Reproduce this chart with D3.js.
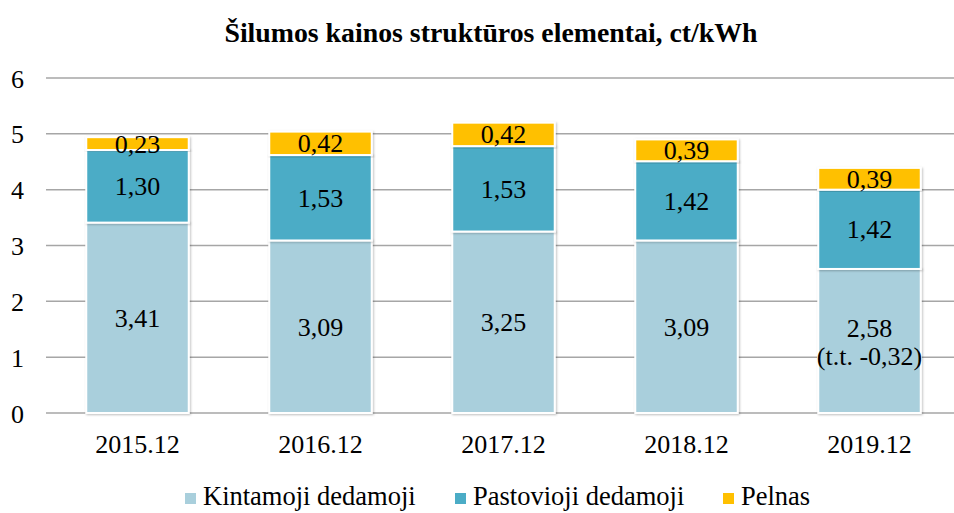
<!DOCTYPE html>
<html>
<head>
  <meta charset="utf-8" />
  <script src="https://d3js.org/d3.v7.min.js"></script>
  <style>
    body { margin: 0; background: white; }
    svg, svg text { font-family: 'Liberation Serif', 'DejaVu Serif', serif; }
    .grid line { stroke: #a6a6a6; stroke-width: 1.5px; }
  </style>
</head>
<body>
  <svg id="chart" width="954" height="513"></svg>
  <script>
    const years = ["2015.12", "2016.12", "2017.12", "2018.12", "2019.12"];
    const kintamoji = [3.41, 3.09, 3.25, 3.09, 2.58];
    const pastovioji = [1.30, 1.53, 1.53, 1.42, 1.42];
    const pelnas = [0.23, 0.42, 0.42, 0.39, 0.39];
    const seriesNames = ["Kintamoji dedamoji", "Pastovioji dedamoji", "Pelnas"];
    const colors = ["#a9cfdc", "#4bacc6", "#ffc000"];
    const yTicks = [0, 1, 2, 3, 4, 5, 6];
    const extraNote = "(t.t. -0,32)";

    const svg = d3.select("#chart");
    const fmt = v => v.toFixed(2).replace(".", ",");

    const x = d3.scaleBand().domain(years).range([46, 961]).paddingInner(0.44).paddingOuter(0.22);
    const y = d3.scaleLinear().domain([0, 6]).range([413, 78]);

    svg.append("text")
      .attr("x", 491).attr("y", 42)
      .attr("text-anchor", "middle")
      .attr("font-weight", "bold").attr("font-size", 27.8)
      .text("Šilumos kainos struktūros elementai, ct/kWh");

    // gridlines
    const grid = svg.append("g").attr("class", "grid");
    grid.selectAll("line").data(yTicks).join("line")
      .attr("x1", 46).attr("x2", 954)
      .attr("y1", d => y(d)).attr("y2", d => y(d));

    const yAxis = d3.axisLeft(y).tickValues(yTicks).tickFormat(d3.format("d")).tickSize(0).tickPadding(0);
    svg.append("g")
      .attr("transform", "translate(24,0)")
      .call(yAxis)
      .attr("font-size", 26)
      .call(g => g.select(".domain").remove())
      .selectAll("text")
      .attr("dy", "0.35em").attr("fill", "#000");

    const xAxis = d3.axisBottom(x).tickSize(0).tickPadding(0);
    svg.append("g")
      .attr("transform", "translate(0," + y(0) + ")")
      .call(xAxis)
      .attr("font-size", 26)
      .call(g => g.select(".domain").remove())
      .selectAll("text")
      .attr("y", 40).attr("dy", 0).attr("fill", "#000");

    const table = years.map((yr, i) => ({ year: yr, k: kintamoji[i], p: pastovioji[i], l: pelnas[i] }));
    const stack = d3.stack().keys(["k", "p", "l"])(table);

    const defs = svg.append("defs");
    const f = defs.append("filter").attr("id", "shadow").attr("x", "-10%").attr("y", "-10%").attr("width", "120%").attr("height", "120%");
    f.append("feDropShadow").attr("dx", 1).attr("dy", 1).attr("stdDeviation", 1.2).attr("flood-color", "#000").attr("flood-opacity", 0.25);

    const layers = svg.append("g").selectAll("g").data(stack).join("g")
      .attr("fill", (d, i) => colors[i]);

    layers.selectAll("rect").data(d => d).join("rect")
      .attr("x", d => x(d.data.year))
      .attr("width", x.bandwidth())
      .attr("y", d => y(d[1]))
      .attr("height", d => y(d[0]) - y(d[1]))
      .attr("stroke", "white").attr("stroke-width", 2)
      .attr("filter", "url(#shadow)");

    // labels
    const labels = svg.append("g").attr("font-size", 26).attr("text-anchor", "middle");
    stack.forEach((layer, li) => {
      layer.forEach((d, i) => {
        const cx = x(d.data.year) + x.bandwidth() / 2;
        const cy = (y(d[0]) + y(d[1])) / 2;
        const v = d[1] - d[0];
        const t = labels.append("text").attr("x", cx).attr("y", cy + 9).text(fmt(v));
        if (li === 0 && i === years.length - 1) {
          t.attr("y", cy - 4);
          labels.append("text").attr("x", cx).attr("y", cy + 24).text(extraNote);
        }
      });
    });

    // legend
    const legendX = [185, 455, 723];
    const legend = svg.append("g").selectAll("g").data(seriesNames).join("g")
      .attr("transform", (d, i) => "translate(" + legendX[i] + ",0)");
    legend.append("rect").attr("x", 0).attr("y", 493).attr("width", 11).attr("height", 11)
      .attr("fill", (d, i) => colors[i]);
    legend.append("text").attr("x", 18).attr("y", 505)
      .attr("font-size", 26.5).text(d => d);
  </script>
</body>
</html>
